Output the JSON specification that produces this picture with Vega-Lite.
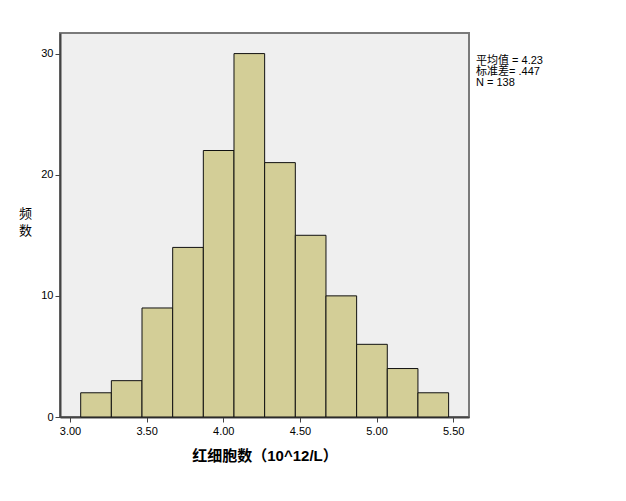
{
  "$schema": "https://vega.github.io/schema/vega-lite/v6.json",
  "width": 409,
  "height": 384,
  "autosize": "none",
  "padding": {"left": 60, "top": 33, "right": 157, "bottom": 84},
  "background": "white",
  "title": {
    "text": ["平均值 = 4.23", " 标准差= .447", "N = 138"],
    "orient": "top",
    "anchor": "end",
    "frame": "group",
    "align": "left",
    "baseline": "top",
    "offset": 0,
    "dx": 7,
    "dy": 55,
    "font": "Liberation Sans, Noto Sans CJK SC",
    "fontSize": 11,
    "fontWeight": "normal",
    "lineHeight": 11,
    "color": "#000000"
  },
  "config": {
    "view": {"fill": "#EFEFEF", "stroke": "#7a7a7a", "strokeWidth": 2},
    "axis": {
      "labelFont": "Liberation Sans",
      "labelFontSize": 11,
      "labelColor": "#000000",
      "domainColor": "#444444",
      "domainWidth": 2,
      "tickColor": "#444444",
      "tickSize": 5,
      "grid": false
    }
  },
  "data": {
    "values": [
      {"bin_start": 3.07, "bin_end": 3.27, "count": 2},
      {"bin_start": 3.27, "bin_end": 3.47, "count": 3},
      {"bin_start": 3.47, "bin_end": 3.67, "count": 9},
      {"bin_start": 3.67, "bin_end": 3.87, "count": 14},
      {"bin_start": 3.87, "bin_end": 4.07, "count": 22},
      {"bin_start": 4.07, "bin_end": 4.27, "count": 30},
      {"bin_start": 4.27, "bin_end": 4.47, "count": 21},
      {"bin_start": 4.47, "bin_end": 4.67, "count": 15},
      {"bin_start": 4.67, "bin_end": 4.87, "count": 10},
      {"bin_start": 4.87, "bin_end": 5.07, "count": 6},
      {"bin_start": 5.07, "bin_end": 5.27, "count": 4},
      {"bin_start": 5.27, "bin_end": 5.47, "count": 2}
    ]
  },
  "mark": {"type": "rect", "fill": "#D3CE97", "stroke": "#111111", "strokeWidth": 1},
  "encoding": {
    "x": {
      "field": "bin_start",
      "type": "quantitative",
      "scale": {"domain": [2.935, 5.603], "nice": false, "zero": false},
      "axis": {
        "values": [3, 3.5, 4, 4.5, 5, 5.5],
        "format": ".2f",
        "title": "红细胞数（10^12/L）",
        "titleFont": "Liberation Sans, Noto Sans CJK SC",
        "titleFontSize": 15,
        "titleFontWeight": "bold",
        "titleColor": "#000000",
        "titlePadding": 12,
        "labelPadding": 3
      }
    },
    "x2": {"field": "bin_end"},
    "y": {
      "field": "count",
      "type": "quantitative",
      "scale": {"domain": [0, 31.7], "nice": false},
      "axis": {
        "values": [0, 10, 20, 30],
        "title": ["频", "数"],
        "titleFont": "Noto Sans CJK SC",
        "titleFontSize": 13,
        "titleFontWeight": "normal",
        "titleColor": "#000000",
        "titleAngle": 0,
        "titleAlign": "center",
        "titleBaseline": "middle",
        "titleX": -35,
        "titleY": 180,
        "titleLineHeight": 17,
        "labelPadding": 2
      }
    },
    "y2": {"datum": 0}
  }
}
